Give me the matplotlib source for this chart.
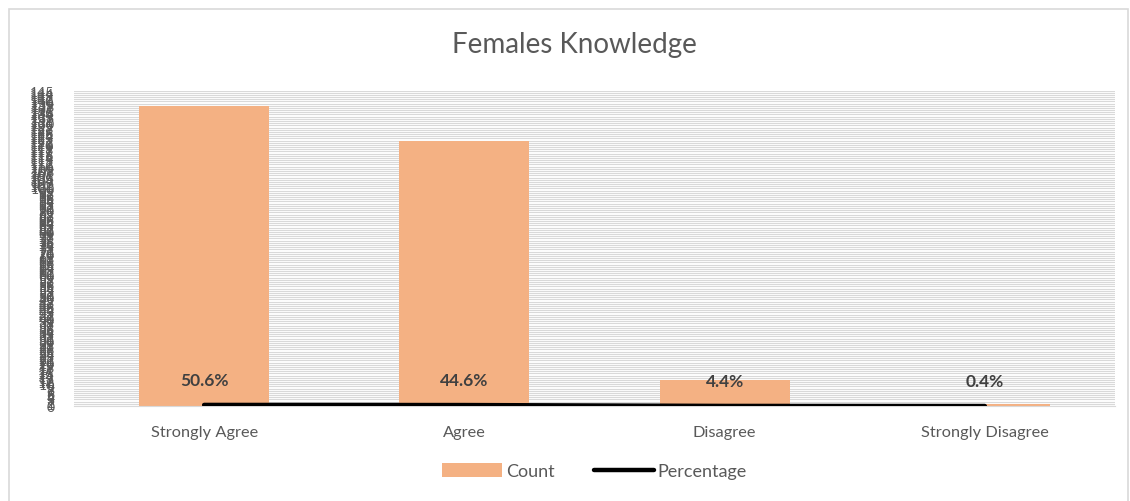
import matplotlib.pyplot as plt
from matplotlib.patches import Rectangle

# Females knowledge responses
categories = ['Strongly Agree', 'Agree', 'Disagree', 'Strongly Disagree']
counts = [138, 122, 12, 1]
percentages = [0.506, 0.446, 0.044, 0.004]
pct_labels = ['50.6%', '44.6%', '4.4%', '0.4%']

plt.rcParams['font.family'] = ['Lato', 'DejaVu Sans']

fig = plt.figure(figsize=(11.3, 5.02), dpi=100)
ax = fig.add_axes([0.0655, 0.1892, 0.9212, 0.6285])

# chart border
fig.patches.append(Rectangle((0.008, -0.02), 0.99, 1.0, transform=fig.transFigure,
                             fill=False, edgecolor='#d9d9d9', linewidth=1.2))

x = range(len(categories))
bars = ax.bar(x, counts, width=0.5, color='#F4B183', label='Count', zorder=2)
line, = ax.plot(x, percentages, color='black', linewidth=3.2, solid_capstyle='round',
                label='Percentage', zorder=3)

for i, (p, lab) in enumerate(zip(percentages, pct_labels)):
    ax.annotate(lab, (i, p), xytext=(0, 18), textcoords='offset points',
                ha='center', va='center', fontsize=12.5, fontweight='bold',
                color='#404040', zorder=4)

ax.set_xlim(-0.5, 3.5)
ax.set_ylim(0, 145)
ax.set_yticks(range(0, 146))
ax.set_yticklabels([str(v) for v in range(0, 146)], fontsize=10, color='#595959')
ax.yaxis.grid(True, color='#d9d9d9', linewidth=0.8, zorder=0)
ax.set_axisbelow(True)

ax.set_xticks(list(x))
ax.set_xticklabels(categories, fontsize=11.8, color='#595959')
ax.tick_params(axis='both', length=0)
ax.tick_params(axis='x', pad=14)
ax.tick_params(axis='y', pad=14)

for s in ['top', 'right', 'left']:
    ax.spines[s].set_visible(False)
ax.spines['bottom'].set_color('#d9d9d9')

fig.text(0.508, 0.91, 'Females Knowledge', ha='center', va='center',
         fontsize=20, color='#595959')

ax.legend([bars, line], ['Count', 'Percentage'], loc='center',
          bbox_to_anchor=(0.5, -0.206), ncol=2, frameon=False,
          fontsize=13, labelcolor='#595959', handlelength=3.3, handleheight=0.8,
          handletextpad=0.2, columnspacing=2.2)

plt.savefig('out.png', dpi=100)
